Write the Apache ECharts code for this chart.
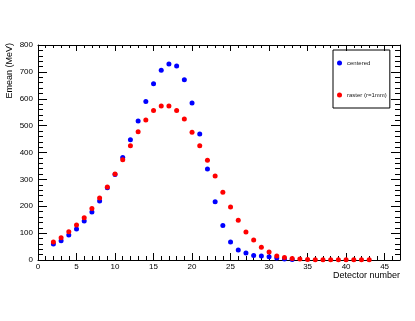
<!DOCTYPE html>
<html>
<head>
<meta charset="utf-8">
<script src="https://cdn.jsdelivr.net/npm/echarts@6/dist/echarts.min.js"></script>
<style>
  html, body { margin: 0; padding: 0; background: #fff; }
  #chart { width: 415px; height: 321px; }
</style>
</head>
<body>
<div id="chart"></div>
<script>
// detector numbers and mean energies (MeV)
var detCentered = [2, 3, 4, 5, 6, 7, 8, 9, 10, 11, 12, 13, 14, 15, 16, 17, 18, 19, 20, 21, 22, 23, 24, 25, 26, 27, 28, 29, 30, 31, 32, 33];
var emeanCentered = [60, 72, 93, 115, 145, 179, 220, 269, 318, 381, 447, 517, 590, 656, 706, 729, 722, 671, 584, 469, 339, 217, 128, 67, 37, 26, 17, 15, 12, 7, 4, 2];

var detRaster = [2, 3, 4, 5, 6, 7, 8, 9, 10, 11, 12, 13, 14, 15, 16, 17, 18, 19, 20, 21, 22, 23, 24, 25, 26, 27, 28, 29, 30, 31, 32, 33, 34, 35, 36, 37, 38, 39, 40, 41, 42, 43];
var emeanRaster = [67, 83, 105, 130, 157, 192, 231, 272, 320, 373, 425, 477, 521, 556, 573, 573, 556, 525, 475, 425, 371, 313, 252, 197, 148, 104, 74, 47, 30, 15, 9, 6, 4, 2, 1, 1, 1, 1, 1, 1, 1, 1];

var seriesNames = ['centered', 'raster (r=1mm)'];

function pairs(xs, ys) {
    var out = [];
    for (var i = 0; i < xs.length; i++) out.push([xs[i], ys[i]]);
    return out;
}

var myChart = echarts.init(document.getElementById('chart'));

var font = 'Liberation Sans, Arial, sans-serif';

// common frame axis pieces (ROOT style: ticks inside on all four sides)
function xAx(pos, showLabels) {
    return {
        type: 'value', position: pos, min: 0, max: 47, interval: 5,
        axisLine: { show: true, onZero: false, lineStyle: { color: '#000', width: 1 } },
        axisTick: { show: true, inside: true, length: pos === 'bottom' ? 7 : 6, lineStyle: { color: '#000' } },
        minorTick: { show: true, splitNumber: 5, length: pos === 'bottom' ? 4 : 3, lineStyle: { color: '#000' } },
        splitLine: { show: false },
        axisLabel: { show: showLabels, showMaxLabel: false, color: '#000', fontSize: 8, fontFamily: font, margin: 3 },
        name: showLabels ? 'Detector number' : '',
        nameLocation: 'end', nameGap: 0,
        nameTextStyle: { align: 'right', verticalAlign: 'top', padding: [11, 0, 0, 0], color: '#000', fontSize: 9, fontFamily: font }
    };
}
function yAx(pos, showLabels) {
    return {
        type: 'value', position: pos, min: 0, max: 800, interval: 100,
        axisLine: { show: true, onZero: false, lineStyle: { color: '#000', width: 1 } },
        axisTick: { show: true, inside: true, length: 9, lineStyle: { color: '#000' } },
        minorTick: { show: true, splitNumber: 5, length: 5, lineStyle: { color: '#000' } },
        splitLine: { show: false },
        axisLabel: { show: showLabels, color: '#000', fontSize: 8, fontFamily: font, margin: 5 }
    };
}

var option = {
    backgroundColor: '#fff',
    animation: false,
    grid: { left: 38, top: 45, right: 15, bottom: 61 },
    xAxis: [xAx('bottom', true), xAx('top', false)],
    yAxis: [yAx('left', true), yAx('right', false)],
    legend: {
        orient: 'vertical', left: 333, top: 50,
        data: seriesNames,
        itemWidth: 5, itemHeight: 5, itemGap: 26, itemTextGap: 5,
        padding: [10, 3, 10, 4],
        borderColor: '#000', borderWidth: 1,
        textStyle: { fontSize: 6, color: '#222', fontFamily: font }
    },
    graphic: [{
        type: 'text', x: 10, y: 43, rotation: Math.PI / 2,
        style: { text: 'Emean (MeV)', align: 'right', verticalAlign: 'middle', fontSize: 9, fontFamily: font, fill: '#000' }
    }],
    series: [{
        name: seriesNames[0], type: 'scatter', symbol: 'circle', symbolSize: 5,
        itemStyle: { color: '#0000ff', opacity: 1 },
        data: pairs(detCentered, emeanCentered)
    }, {
        name: seriesNames[1], type: 'scatter', symbol: 'circle', symbolSize: 5,
        itemStyle: { color: '#ff0000', opacity: 1 },
        data: pairs(detRaster, emeanRaster)
    }]
};

myChart.setOption(option);
</script>
</body>
</html>
